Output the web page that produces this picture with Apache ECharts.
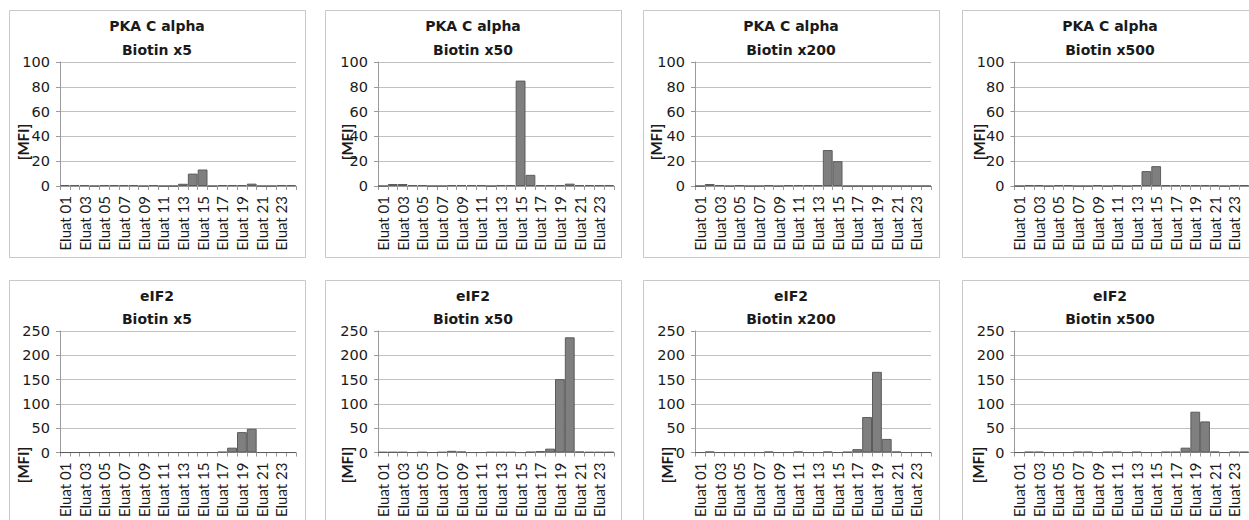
<!DOCTYPE html>
<html>
<head>
<meta charset="utf-8">
<script src="https://cdn.jsdelivr.net/npm/echarts@6/dist/echarts.min.js"></script>
<style>
html,body{margin:0;padding:0;background:#fff;}
#chart{width:1249px;height:520px;}
</style>
</head>
<body>
<div id="chart"></div>
<script>
const categories = ['Eluat 01','Eluat 02','Eluat 03','Eluat 04','Eluat 05','Eluat 06','Eluat 07','Eluat 08','Eluat 09','Eluat 10','Eluat 11','Eluat 12','Eluat 13','Eluat 14','Eluat 15','Eluat 16','Eluat 17','Eluat 18','Eluat 19','Eluat 20','Eluat 21','Eluat 22','Eluat 23','Eluat 24'];

const pkaTitles = ['PKA C alpha\nBiotin x5','PKA C alpha\nBiotin x50','PKA C alpha\nBiotin x200','PKA C alpha\nBiotin x500'];
const eifTitles = ['eIF2\nBiotin x5','eIF2\nBiotin x50','eIF2\nBiotin x200','eIF2\nBiotin x500'];

const pkaX5   = [0.8,0.8,0.8,0,0.8,0.8,0.8,0.8,0,0.8,0,0,1.8,10,13.3,0,0.8,0.8,0.8,1.9,0,0,0.8,0.8];
const pkaX50  = [0,1.6,1.6,0.8,0.8,0,0,0.8,0.8,0.8,0.8,0,0.8,0.8,85,9,0.8,0.8,0.8,1.9,0.8,0.8,0.8,0.8];
const pkaX200 = [0,1.6,0.7,0,0.7,0,0,0.7,0,0.7,0.7,0.7,0.7,29,20,0,0,0,0,0,0,0,0,0];
const pkaX500 = [0,0.7,0.7,0,0.7,0.7,0,0,0.7,0,0.7,0,0.7,12,16,0.7,0.7,0.7,0.7,0.7,0.7,0,0.7,0.7];

const eifX5   = [0,0,0,0,0,0,0,0,0,0,0,0,0,0,0,0,1.5,10,42,49,0,0,0,0];
const eifX50  = [1,1,1,0,1,0,1,3.5,2,0,0,1,1,1,0,1.5,3,8,151,237,2,1,1,1];
const eifX200 = [0,2,0,0,0,0,0,2,0,0,2,0,0,2,0,1.5,7,73,166,28,2,0,0,0];
const eifX500 = [0,1.5,1.5,0,0,0,1.5,1.5,0,1.5,1.5,0,1.5,0,0,1.5,1.5,10,84,64,2,0,1.5,1.5];

const pkaYMax = 100, pkaYStep = 20;
const eifYMax = 250, eifYStep = 50;
const yAxisTitle = '[MFI]';

const seriesData = [pkaX5, pkaX50, pkaX200, pkaX500, eifX5, eifX50, eifX200, eifX500];
const titles = pkaTitles.concat(eifTitles);

// layout
const plotLefts = [60, 378, 695, 1014.5];
const plotWidth = 236;
const rowTop = [62, 331];
const plotHeight = 124;
const boxLefts = [9, 325, 643, 962];
const boxWidth = 296;
const boxTops = [10, 280];
const boxHeights = [247, 260];
const titleTops = [14, 284.5];
const mfiPos = [[23,142],[347,142],[656,142],[979,142],[23,465],[347,465],[667,465],[978,465]];

const FONT_H = '"DejaVu Sans", sans-serif';
const FONT_V = 'Lato, "Open Sans", sans-serif';
const gridColor = '#c0c0c0';
const axisColor = '#9a9a9a';
const textColor = '#1a1a1a';

const grids = [], xAxes = [], yAxes = [], series = [], titleArr = [], graphics = [];

for (let i = 0; i < 8; i++) {
  const row = i < 4 ? 0 : 1;
  const col = i % 4;
  grids.push({left: plotLefts[col], top: rowTop[row], width: plotWidth, height: plotHeight, containLabel: false});
  xAxes.push({
    type: 'category', gridIndex: i, data: categories, boundaryGap: true,
    axisLine: {show: true, lineStyle: {color: axisColor, width: 1}},
    axisTick: {show: true, interval: 0, length: 4, lineStyle: {color: axisColor}},
    axisLabel: {interval: 1, rotate: 90, margin: 10, fontSize: 15, color: textColor, fontFamily: FONT_V},
    splitLine: {show: false}
  });
  yAxes.push({
    type: 'value', gridIndex: i, min: 0,
    max: row === 0 ? pkaYMax : eifYMax,
    interval: row === 0 ? pkaYStep : eifYStep,
    axisLine: {show: true, lineStyle: {color: axisColor, width: 1}},
    axisTick: {show: true, length: 4, lineStyle: {color: axisColor}},
    axisLabel: {margin: 10, fontSize: 14.5, color: textColor, fontFamily: FONT_H},
    splitLine: {show: true, lineStyle: {color: gridColor, width: 1}}
  });
  series.push({
    type: 'bar', xAxisIndex: i, yAxisIndex: i, data: seriesData[i],
    barCategoryGap: '0%', barGap: '0%',
    itemStyle: {color: '#7f7f7f', borderColor: '#5c5c5c', borderWidth: 1},
    emphasis: {disabled: true}, animation: false
  });
  titleArr.push({
    text: titles[i], left: boxLefts[col] + boxWidth / 2, top: titleTops[row], textAlign: 'center',
    padding: 0,
    textStyle: {fontSize: 14, fontWeight: 'bold', color: textColor, fontFamily: FONT_H, lineHeight: row === 0 ? 24 : 23}
  });
  graphics.push({
    type: 'rect', silent: true, z: -1,
    shape: {x: boxLefts[col] + 0.5, y: boxTops[row] + 0.5, width: boxWidth, height: boxHeights[row]},
    style: {fill: 'none', stroke: '#c8c8c8', lineWidth: 1}
  });
  graphics.push({
    type: 'text', silent: true, x: mfiPos[i][0], y: mfiPos[i][1], rotation: Math.PI / 2,
    style: {text: yAxisTitle, fontSize: 15, fontWeight: 'bold', fill: textColor, fontFamily: FONT_V, align: 'center', verticalAlign: 'middle'}
  });
}

const chart = echarts.init(document.getElementById('chart'), null, {renderer: 'svg'});
chart.setOption({
  backgroundColor: '#ffffff',
  animation: false,
  title: titleArr,
  grid: grids,
  xAxis: xAxes,
  yAxis: yAxes,
  series: series,
  graphic: graphics
});
</script>
</body>
</html>
